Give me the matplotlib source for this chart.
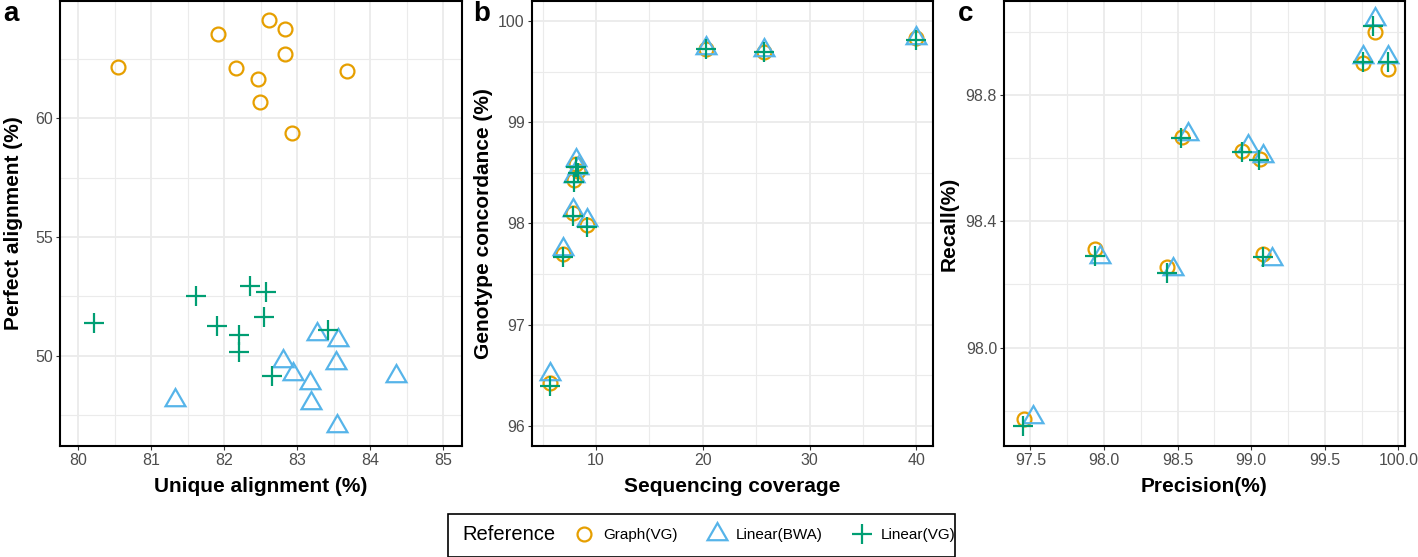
import matplotlib
matplotlib.use("Agg")
import matplotlib.pyplot as plt
from matplotlib.lines import Line2D
from matplotlib.patches import Rectangle
from matplotlib.ticker import MultipleLocator, FormatStrFormatter

plt.rcParams['font.family'] = ['Liberation Sans', 'DejaVu Sans']

# panel a: unique vs perfect alignment (%)
graph_ua = [80.55, 81.91, 82.62, 82.83, 82.83, 82.16, 82.46, 82.49, 82.93, 83.69]
graph_pa = [62.18, 63.54, 64.13, 63.75, 62.70, 62.14, 61.67, 60.69, 59.40, 61.98]
bwa_ua = [81.33, 82.80, 82.94, 83.17, 83.19, 83.27, 83.56, 83.53, 83.54, 84.35]
bwa_pa = [48.15, 49.80, 49.25, 48.87, 48.02, 50.90, 50.66, 49.68, 47.04, 49.15]
vg_ua = [80.21, 81.61, 82.36, 82.58, 82.55, 81.90, 82.20, 82.20, 82.65, 83.42]
vg_pa = [51.38, 52.50, 52.95, 52.69, 51.63, 51.24, 50.89, 50.14, 49.16, 51.10]

# panel b: coverage vs genotype concordance (%)
coverage = [5.69, 6.94, 7.82, 7.90, 8.10, 8.30, 9.18, 20.28, 25.75, 40.0]
graph_gc = [96.42, 97.70, 98.10, 98.43, 98.59, 98.52, 97.99, 99.73, 99.70, 99.83]
bwa_gc = [96.51, 97.75, 98.13, 98.47, 98.63, 98.55, 98.03, 99.74, 99.72, 99.83]
vg_gc = [96.39, 97.67, 98.07, 98.41, 98.56, 98.50, 97.97, 99.73, 99.70, 99.81]

# panel c: precision vs recall (%)
graph_prec = [99.84, 99.76, 99.93, 98.53, 98.935, 99.06, 97.94, 98.43, 99.08, 97.455]
graph_rec = [99.00, 98.90, 98.884, 98.668, 98.622, 98.598, 98.313, 98.255, 98.295, 97.773]
bwa_prec = [99.84, 99.76, 99.93, 98.57, 98.98, 99.08, 97.97, 98.47, 99.14, 97.52]
bwa_rec = [99.04, 98.92, 98.92, 98.675, 98.64, 98.608, 98.286, 98.25, 98.28, 97.78]
vg_prec = [99.83, 99.76, 99.93, 98.52, 98.935, 99.05, 97.94, 98.43, 99.08, 97.446]
vg_rec = [99.02, 98.905, 98.905, 98.664, 98.62, 98.595, 98.29, 98.236, 98.287, 97.75]

methods = ["Graph(VG)", "Linear(BWA)", "Linear(VG)"]
colors = ["#E69F00", "#56B4E9", "#009E73"]
markers = ["o", (3, 0, 0), "+"]
msizes = [10, 16.5, 15]

W, H = 1418, 557
fig = plt.figure(figsize=(W / 100, H / 100), dpi=100)

def px_axes(l, r, t, b):
    return fig.add_axes([l / W, 1 - b / H, (r - l) / W, (b - t) / H])

ax_a = px_axes(60, 462, 1, 446)
ax_b = px_axes(531.7, 933.3, 1, 446)
ax_c = px_axes(1004, 1405, 1, 446)

def scatter3(ax, xs, ys):
    for x, y, c, m, s in zip(xs, ys, colors, markers, msizes):
        ax.plot(x, y, linestyle="none", marker=m, ms=s, mfc="none",
                mec=c, mew=1.6, zorder=3)

scatter3(ax_a, [graph_ua, bwa_ua, vg_ua], [graph_pa, bwa_pa, vg_pa])
scatter3(ax_b, [coverage, coverage, coverage], [graph_gc, bwa_gc, vg_gc])
scatter3(ax_c, [graph_prec, bwa_prec, vg_prec], [graph_rec, bwa_rec, vg_rec])

ax_a.set_xlim(79.75, 85.26)
ax_a.set_ylim(46.2, 64.95)
ax_a.xaxis.set_major_locator(MultipleLocator(1))
ax_a.xaxis.set_minor_locator(MultipleLocator(0.5))
ax_a.yaxis.set_major_locator(MultipleLocator(5))
ax_a.yaxis.set_minor_locator(MultipleLocator(2.5))

ax_b.set_xlim(3.97, 41.6)
ax_b.set_ylim(95.8, 100.2)
ax_b.xaxis.set_major_locator(MultipleLocator(10))
ax_b.xaxis.set_minor_locator(MultipleLocator(5))
ax_b.yaxis.set_major_locator(MultipleLocator(1))
ax_b.yaxis.set_minor_locator(MultipleLocator(0.5))

ax_c.set_xlim(97.32, 100.045)
ax_c.set_ylim(97.688, 99.098)
ax_c.xaxis.set_major_locator(MultipleLocator(0.5))
ax_c.xaxis.set_minor_locator(MultipleLocator(0.25))
ax_c.yaxis.set_major_locator(MultipleLocator(0.4))
ax_c.yaxis.set_minor_locator(MultipleLocator(0.2))
ax_c.xaxis.set_major_formatter(FormatStrFormatter("%.1f"))
ax_c.yaxis.set_major_formatter(FormatStrFormatter("%.1f"))

labels = [
    (ax_a, "Unique alignment (%)", "Perfect alignment (%)", -0.115, "a", 3),
    (ax_b, "Sequencing coverage", "Genotype concordance (%)", -0.12, "b", 473),
    (ax_c, "Precision(%)", "Recall(%)", -0.137, "c", 958),
]
for ax, xl, yl, ylx, letter, lx in labels:
    ax.set_facecolor("white")
    ax.grid(True, which="major", color="#EBEBEB", lw=1.3, zorder=0)
    ax.grid(True, which="minor", color="#EBEBEB", lw=0.8, zorder=0)
    ax.set_axisbelow(True)
    for sp in ax.spines.values():
        sp.set_color("black")
        sp.set_linewidth(1.5)
    ax.tick_params(which="major", length=3, width=0.8, color="#333333",
                   labelcolor="#4D4D4D", labelsize=11.5, pad=2)
    ax.tick_params(which="minor", length=0)
    ax.set_xlabel(xl, fontsize=15, fontweight="bold")
    ax.set_ylabel(yl, fontsize=15, fontweight="bold")
    ax.xaxis.set_label_coords(0.5, -0.091)
    ax.xaxis.label.set_va("center")
    ax.yaxis.set_label_coords(ylx, 0.5)
    ax.yaxis.label.set_va("center")
    fig.text(lx / W, 1 - 21 / H, letter, fontsize=20, fontweight="bold",
             ha="left", va="baseline")

# legend box at the bottom
fig.add_artist(Rectangle((448 / W, 0.5 / H), (955 - 448) / W, 43 / H,
                         transform=fig.transFigure, fill=False,
                         edgecolor="black", lw=1.2))
fig.text(462 / W, 1 - 535 / H, "Reference", fontsize=14.5, ha="left", va="center")
handles = [Line2D([], [], linestyle="none", marker=m, ms=s, mfc="none",
                  mec=c, mew=1.6) for c, m, s in zip(colors, markers, msizes)]
fig.legend(handles, methods, ncol=3, loc="center", frameon=False,
           bbox_to_anchor=(764 / W, 1 - 535 / H), fontsize=11,
           handlelength=1.5, handletextpad=0.5, columnspacing=1.8)

fig.savefig("out.png", dpi=100)
